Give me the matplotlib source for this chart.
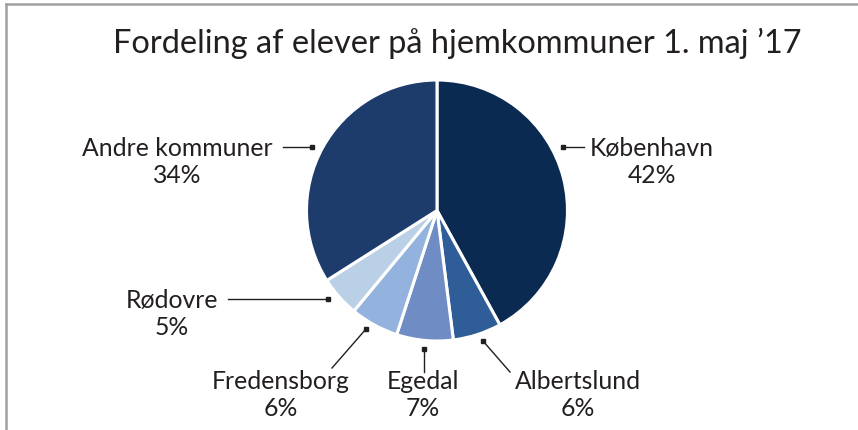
import matplotlib.pyplot as plt
from matplotlib.lines import Line2D

# data
kommuner = ["København", "Albertslund", "Egedal", "Fredensborg", "Rødovre", "Andre kommuner"]
andele = [42, 6, 7, 6, 5, 34]
farver = ["#0b2a52", "#2f5d98", "#6f8cc4", "#93b3de", "#bad0e6", "#1e3c6b"]

# label placement in pixel coords (x, y from top): text centre, leader start, leader end (marker)
tekst_pos = [(652, 162), (578, 395), (423, 395), (281, 395), (172, 314), (177, 162)]
linje_fra = [(584, 147), (510, 372), (424, 372), (332, 368), (228, 299), (283, 147)]
linje_til = [(563, 147), (483, 341), (424, 349), (366, 329), (328, 299), (312, 147)]

W, H = 858, 430
fig = plt.figure(figsize=(W / 100, H / 100), dpi=100)
ax = fig.add_axes([0, 0, 1, 1])

def py(y):
    return H - y

ax.pie(andele, colors=farver, startangle=90, counterclock=False,
       center=(437, py(210.5)), radius=130.5,
       wedgeprops=dict(edgecolor="white", linewidth=2.2))

tekstfarve = "#231f20"
for navn, pct, tp, lf, lt in zip(kommuner, andele, tekst_pos, linje_fra, linje_til):
    ax.plot([lf[0], lt[0]], [py(lf[1]), py(lt[1])], color=tekstfarve, lw=1.0)
    ax.plot(lt[0], py(lt[1]), marker="s", ms=3.5, color=tekstfarve)
    ax.text(tp[0], py(tp[1]), f"{navn}\n{pct}%", ha="center", va="center",
            fontsize=17.8, family="Lato", color=tekstfarve, linespacing=1.25)

ax.text(457, py(43), "Fordeling af elever på hjemkommuner 1. maj \u201917",
        ha="center", va="center", fontsize=23.4, family="Lato", color=tekstfarve)

# frame (top and left only visible)
ax.add_line(Line2D([6, W], [py(4), py(4)], color="#a0a0a0", lw=1.8))
ax.add_line(Line2D([6, 6], [py(4), 0], color="#a0a0a0", lw=1.8))

ax.set_xlim(0, W)
ax.set_ylim(0, H)
ax.set_aspect("equal")
ax.axis("off")

fig.savefig("out.png", dpi=100)
